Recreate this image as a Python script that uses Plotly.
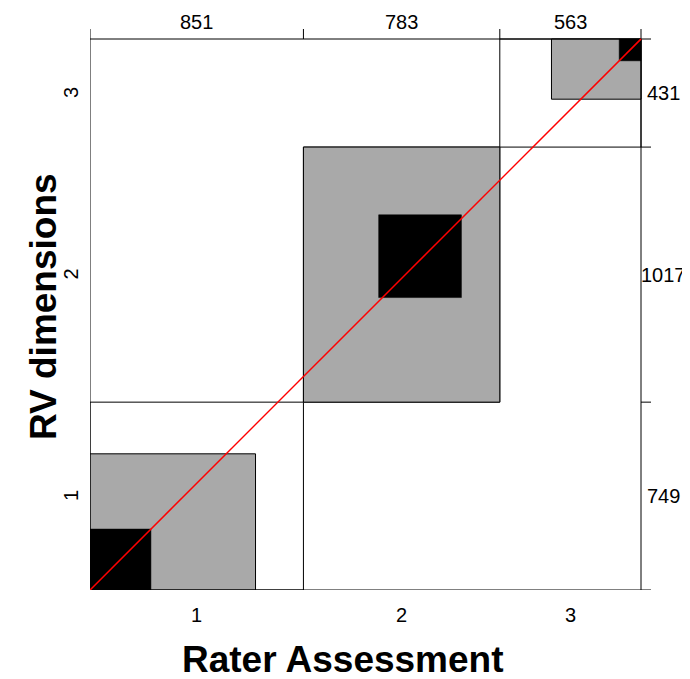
import plotly.graph_objects as go

# ---- data (agreement table: rows = RV dimensions, columns = Rater Assessment) ----
categories = ["1", "2", "3"]
row_1 = [243, 300, 206]
row_2 = [417, 330, 270]
row_3 = [191, 153, 87]
counts = [row_1, row_2, row_3]

x_title = "Rater Assessment"
y_title = "RV dimensions"

n_cat = len(categories)
col_totals = [sum(counts[r][c] for r in range(n_cat)) for c in range(n_cat)]
row_totals = [sum(counts[r]) for r in range(n_cat)]
N = sum(row_totals)

# ---- layout constants (page body has an 8px margin) ----
OFF = 8
W, H = 690 - OFF, 679 - OFF
L, R, T, B = 90 - OFF, 39, 29 - OFF, 89
plot_px = W - L - R          # 561
box_px = 551                 # size of the actual square box
ext = N * (plot_px - box_px) / box_px   # extra range for tick stubs
FONT = "Liberation Sans, Arial, Helvetica, sans-serif"
GRAY = "#A9A9A9"
LINE = dict(color="black", width=1)
TICK_SIZE = 20
TITLE_SIZE = 37

shapes = []
annotations = []

x_starts = [sum(col_totals[:i]) for i in range(n_cat)]
y_starts = [sum(row_totals[:i]) for i in range(n_cat)]

for i in range(n_cat):
    x0, y0 = x_starts[i], y_starts[i]
    shapes.append(dict(type="rect", xref="x", yref="y", x0=x0, x1=x0 + col_totals[i],
                       y0=y0, y1=y0 + row_totals[i], line=LINE, fillcolor="rgba(0,0,0,0)",
                       layer="below"))
for i in range(n_cat):
    x0, y0 = x_starts[i], y_starts[i]
    q = list(range(max(0, i - 1), min(n_cat, i + 2)))
    gx0 = x0 + sum(counts[r][i] for r in range(q[0]))
    gw = sum(counts[r][i] for r in q)
    gy0 = y0 + sum(counts[i][c] for c in range(q[0]))
    gh = sum(counts[i][c] for c in q)
    shapes.append(dict(type="rect", xref="x", yref="y", x0=gx0, x1=gx0 + gw, y0=gy0, y1=gy0 + gh,
                       line=LINE, fillcolor=GRAY, layer="below"))
    bx0 = x0 + sum(counts[r][i] for r in range(i))
    by0 = y0 + sum(counts[i][c] for c in range(i))
    d = counts[i][i]
    shapes.append(dict(type="rect", xref="x", yref="y", x0=bx0, x1=bx0 + d, y0=by0, y1=by0 + d,
                       line=dict(color="black", width=0.5), fillcolor="black", layer="below"))

shapes.append(dict(type="line", xref="x", yref="y", x0=0, x1=N + ext, y0=N, y1=N, line=LINE, layer="below"))
shapes.append(dict(type="line", xref="x", yref="y", x0=0, x1=N + ext, y0=0, y1=0, line=LINE, layer="below"))
shapes.append(dict(type="line", xref="x", yref="y", x0=0, x1=0, y0=0, y1=N + ext, line=LINE, layer="below"))
shapes.append(dict(type="line", xref="x", yref="y", x0=N, x1=N, y0=0, y1=N + ext, line=LINE, layer="below"))
for i in range(1, n_cat):
    xs = x_starts[i]
    shapes.append(dict(type="line", xref="x", yref="y", x0=xs, x1=xs, y0=N, y1=N + ext, line=LINE, layer="below"))
    ys = y_starts[i]
    shapes.append(dict(type="line", xref="x", yref="y", x0=N, x1=N + ext, y0=ys, y1=ys, line=LINE, layer="below"))

# red diagonal (perfect agreement), drawn on top
shapes.append(dict(type="line", xref="x", yref="y", x0=0, y0=0, x1=N, y1=N,
                   line=dict(color="#ff0000", width=1.2), layer="above"))

fig = go.Figure()
fig.add_trace(go.Scatter(x=[0, N], y=[0, N], mode="lines", line=dict(color="#ff0000", width=1.2),
                         hoverinfo="skip", showlegend=False))

for i in range(n_cat):
    xc = x_starts[i] + col_totals[i] / 2
    yc = y_starts[i] + row_totals[i] / 2
    annotations.append(dict(x=xc, y=N, xref="x", yref="y", text=str(col_totals[i]), showarrow=False,
                            xanchor="center", yanchor="middle",
                            yshift=17, font=dict(family=FONT, size=TICK_SIZE, color="black")))
    annotations.append(dict(x=N, y=yc, xref="x", yref="y", text=str(row_totals[i]), showarrow=False,
                            xanchor="center", yanchor="middle",
                            xshift=22, font=dict(family=FONT, size=TICK_SIZE, color="black")))
    annotations.append(dict(x=xc, y=0, xref="x", yref="y", text=categories[i], showarrow=False,
                            xanchor="center", yanchor="middle",
                            yshift=-25, font=dict(family=FONT, size=TICK_SIZE, color="black")))
    annotations.append(dict(x=0, y=yc, xref="x", yref="y", text=categories[i], showarrow=False,
                            xanchor="center", yanchor="middle",
                            xshift=-19, textangle=-90, font=dict(family=FONT, size=TICK_SIZE, color="black")))

# titles positioned in paper coords (paper = plot area 90..651 x 29..590 in window px)
annotations.append(dict(x=(343 - 90) / plot_px, y=-(659 - 590) / plot_px, xref="paper", yref="paper",
                        xanchor="center", yanchor="middle",
                        text="<b>" + x_title + "</b>", showarrow=False,
                        font=dict(family=FONT, size=TITLE_SIZE, color="black")))
annotations.append(dict(x=-(90 - 44) / plot_px, y=(590 - 307) / plot_px, xref="paper", yref="paper",
                        xanchor="center", yanchor="middle",
                        text="<b>" + y_title + "</b>", showarrow=False, textangle=-90,
                        font=dict(family=FONT, size=TITLE_SIZE, color="black")))

fig.update_layout(
    width=W, height=H,
    margin=dict(l=L, r=R, t=T, b=B, pad=0),
    paper_bgcolor="white", plot_bgcolor="white",
    xaxis=dict(range=[0, N + ext], visible=False, fixedrange=True),
    yaxis=dict(range=[0, N + ext], visible=False, fixedrange=True),
    shapes=shapes,
    annotations=annotations,
    showlegend=False,
)

fig.write_html("out.html")
